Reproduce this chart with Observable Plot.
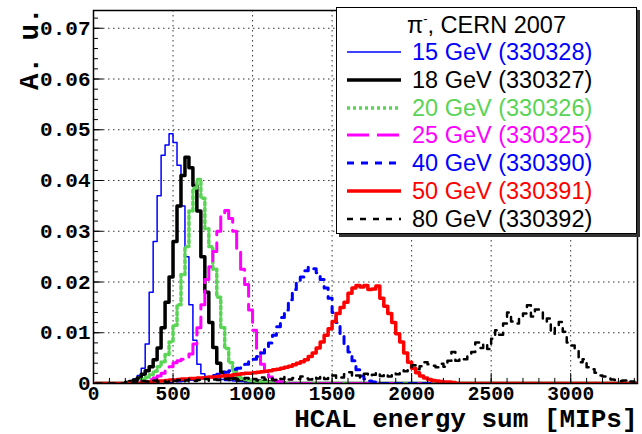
<!DOCTYPE html>
<html>
<head>
<meta charset="utf-8">
<script src="https://cdn.jsdelivr.net/npm/d3@7"></script>
<script src="https://cdn.jsdelivr.net/npm/@observablehq/plot@0.6"></script>
<style>
  body { margin: 0; background: #fff; }
  #wrap { position: relative; width: 642px; height: 434px; overflow: hidden; }
  #legend { position: absolute; left: 336px; top: 7px; width: 299px; height: 225px; background: #fff;
            border: 1px solid #000; box-shadow: 3px 3px 0 #333; font-family: "Liberation Sans", Arial, sans-serif; font-size: 23.5px; }
  .row { position: absolute; left: 0; height: 24px; line-height: 24px; display: flex; align-items: center; white-space: nowrap; }
  .row span { line-height: 24px; }
  .row svg { margin-left: 10px; margin-right: 11px; }
  .title { position: absolute; left: 0; width: 100%; text-align: center; top: 5px; height: 24px; line-height: 24px; white-space: nowrap; }
  .title sup { font-size: 13px; vertical-align: 10px; line-height: 0; }
</style>
</head>
<body>
<div id="wrap"></div>
<script>
// ---------- data (bin width 25 MIPs, values start at the given bin edge) ----------
const binWidth = 25;
const xMax = 3420;
const yMax = 0.0735;

const legendTitle = "CERN 2007";
const labels = ["15 GeV (330328)", "18 GeV (330327)", "20 GeV (330326)", "25 GeV (330325)",
                "40 GeV (330390)", "50 GeV (330391)", "80 GeV (330392)"];
const starts = [200, 200, 300, 300, 500, 300, 200];

const e15 = [0.0002,0.0005,0.0009,0.0016,0.003,0.0078,0.018,0.028,0.037,0.045,0.047,0.0492,0.0475,0.043,0.035,0.025,
  0.0155,0.0085,0.0038,0.0019,0.0014,0.0012,0.0011,0.0009,0.0008,0.0006,0.0006,0.0005,0.0004,0.0004,0.0003,0.0003,0.0002];
const e18 = [0.0002,0.0004,0.0007,0.0011,0.0018,0.0025,0.0033,0.0047,0.007,0.011,0.016,0.021,0.028,0.035,0.041,0.0446,
  0.0425,0.039,0.034,0.025,0.018,0.012,0.0071,0.004,0.0022,0.0015,0.0012,0.001,0.0009,0.0008,0.0007,0.0006,0.0005,
  0.0005,0.0004,0.0004,0.0003,0.0003,0.0002,0.0002];
const e20 = [0.0008,0.0012,0.0017,0.0024,0.0033,0.0043,0.0057,0.0082,0.0115,0.0155,0.0215,0.027,0.034,0.0385,0.0402,
  0.0365,0.0305,0.027,0.0225,0.017,0.011,0.0069,0.0041,0.0024,0.0015,0.001,0.0008,0.0006,0.0005,0.0004,0.0003,0.0003,0.0002];
const e25 = [0.0004,0.0006,0.0008,0.0011,0.0015,0.002,0.0026,0.0033,0.0041,0.0045,0.0048,0.005,0.0058,0.0078,0.011,
  0.0155,0.0205,0.023,0.026,0.030,0.0332,0.0341,0.0325,0.030,0.026,0.0225,0.0195,0.0145,0.0105,0.0062,0.0038,0.0022,
  0.0013,0.0007,0.0004,0.0003,0.0002];
const e40 = [0.0004,0.0005,0.0006,0.0007,0.0008,0.0009,0.001,0.0011,0.0012,0.0014,0.0016,0.0018,0.002,0.0022,0.0025,
  0.0028,0.003,0.0033,0.0038,0.0043,0.0048,0.0053,0.006,0.0068,0.008,0.0095,0.0112,0.013,0.0145,0.0165,0.0185,0.020,
  0.021,0.0222,0.0229,0.0226,0.0218,0.0205,0.0188,0.0168,0.014,0.012,0.0098,0.0078,0.0062,0.0045,0.0027,0.0015,0.0009,
  0.0005,0.0003,0.0002];
const e50 = [0.0002,0.0003,0.0003,0.0004,0.0005,0.0005,0.0006,0.0007,0.0007,0.0008,0.0009,0.0009,0.001,0.001,0.0011,
  0.0011,0.0012,0.0013,0.0013,0.0014,0.0015,0.0016,0.0016,0.0017,0.0018,0.0019,0.002,0.002,0.0021,0.0022,0.0023,0.0024,
  0.0025,0.0027,0.0028,0.003,0.0032,0.0034,0.0037,0.004,0.0043,0.0047,0.0053,0.006,0.007,0.0082,0.0095,0.0108,0.0122,
  0.0138,0.015,0.016,0.0178,0.0188,0.0193,0.019,0.0193,0.0185,0.0186,0.0192,0.0168,0.0152,0.0138,0.012,0.0098,0.0082,
  0.006,0.0042,0.003,0.0021,0.0015,0.0011,0.0008,0.0006,0.0005,0.0004,0.0003,0.0003,0.0002];
const e80 = [0.0003,0.0002,0.0004,0.0003,0.0005,0.0004,0.0003,0.0006,0.0004,0.0005,0.0003,0.0006,0.0005,0.0007,0.0004,
  0.0006,0.0008,0.0005,0.0007,0.0006,0.0009,0.0005,0.0008,0.0007,0.0006,0.0009,0.0007,0.001,0.0006,0.0008,0.0011,0.0007,
  0.0009,0.0006,0.0012,0.0008,0.001,0.0007,0.0011,0.0009,0.0013,0.0008,0.0011,0.0009,0.0014,0.001,0.0008,0.0013,0.001,
  0.0015,0.0009,0.0012,0.0016,0.001,0.0012,0.0018,0.0022,0.0013,0.0016,0.0011,0.0019,0.0014,0.0017,0.0022,0.0015,0.0019,
  0.0014,0.0021,0.0018,0.0026,0.0024,0.003,0.0036,0.0028,0.0034,0.0042,0.0038,0.0035,0.0032,0.0039,0.0033,0.0045,0.0062,
  0.0045,0.005,0.0048,0.0056,0.0062,0.0081,0.007,0.0079,0.0068,0.0088,0.0105,0.0096,0.0118,0.014,0.0122,0.0118,0.0128,
  0.0138,0.0154,0.0132,0.0146,0.014,0.0122,0.0128,0.0098,0.0115,0.0121,0.0102,0.0081,0.0075,0.0064,0.0042,0.0048,0.0032,
  0.0028,0.0021,0.0016,0.0014,0.001,0.0008,0.0007,0.0005,0.0006,0.0008,0.0004];
const values = [e15, e18, e20, e25, e40, e50, e80];

const xTicks = [0, 500, 1000, 1500, 2000, 2500, 3000];
const yTicks = [0, 0.01, 0.02, 0.03, 0.04, 0.05, 0.06, 0.07];
const xMinor = d3.range(0, 3401, 100);
const yMinor = d3.range(0, 0.0731, 0.002);
const xLabel = "HCAL energy sum [MIPs]";
const yLabel = "A. u.";

// ---------- styles ----------
const styles = [
  {stroke: "#0000ff", width: 1.5, dash: null},
  {stroke: "#000000", width: 3.5, dash: null},
  {stroke: "#59d454", width: 3.5, dash: "3,3"},
  {stroke: "#ff00ff", width: 3,   dash: "22,8"},
  {stroke: "#0000ff", width: 3,   dash: "7,7"},
  {stroke: "#ff0000", width: 3.5, dash: null},
  {stroke: "#000000", width: 2.5, dash: "6,7"}
];

// ---------- build histogram table ----------
const nBins = Math.ceil(xMax / binWidth);
const tables = values.map((vals, s) => {
  const rows = [];
  for (let i = 0; i < nBins; i++) {
    const edge = i * binWidth;
    const k = Math.round((edge - starts[s]) / binWidth);
    const v = (k >= 0 && k < vals.length) ? vals[k] : 0;
    rows.push({x: edge + binWidth / 2, y: v});
  }
  return rows;
});

const histMarks = tables.map((rows, s) => Plot.line(rows, {
  x: "x", y: "y", curve: "step", stroke: styles[s].stroke, strokeWidth: styles[s].width,
  strokeDasharray: styles[s].dash, clip: true
}));

const plot = Plot.plot({
  width: 642, height: 434,
  marginLeft: 93, marginRight: 5, marginTop: 10, marginBottom: 51,
  x: {domain: [0, xMax]},
  y: {domain: [0, yMax]},
  style: {fontFamily: "'Liberation Mono', 'DejaVu Sans Mono', monospace", fontWeight: "bold", fontSize: "21px", color: "#000", background: "#fff"},
  marks: [
    Plot.ruleX(xTicks.slice(1), {stroke: "#000", strokeWidth: 1, strokeDasharray: "1.5,3.5", strokeOpacity: 0.8}),
    Plot.ruleY(yTicks.slice(1), {stroke: "#000", strokeWidth: 1, strokeDasharray: "1.5,3.5", strokeOpacity: 0.8}),
    ...histMarks,
    Plot.ruleY(yMinor, {x1: 0, x2: 31, stroke: "#000", strokeWidth: 1}),
    Plot.ruleY(yTicks, {x1: 0, x2: 63, stroke: "#000", strokeWidth: 1}),
    Plot.ruleX(xMinor, {y1: 0, y2: 0.001, stroke: "#000", strokeWidth: 1}),
    Plot.ruleX(xTicks, {y1: 0, y2: 0.00197, stroke: "#000", strokeWidth: 1}),
    Plot.frame({stroke: "#000", strokeWidth: 1.5}),
    Plot.axisX(xTicks, {tickSize: 0, tickPadding: 3, label: null, fontSize: 19.5, fontWeight: "bold", tickFormat: d => String(d)}),
    Plot.axisY(yTicks, {tickSize: 0, tickPadding: 3, label: null, fontSize: 21, fontWeight: "bold",
      tickFormat: d => d === 0 ? "0" : d.toFixed(2)}),
    Plot.text([xLabel], {text: d => d, frameAnchor: "bottom-right", dy: 43.5, textAnchor: "end", fontSize: 26, fontWeight: "bold"}),
    Plot.text([yLabel], {text: d => d, frameAnchor: "top-left", dx: -75, dy: -3, rotate: -90, textAnchor: "end", fontSize: 27.5, fontWeight: "bold"})
  ]
});

const wrap = document.getElementById("wrap");
wrap.appendChild(plot);

// ---------- legend ----------
const legend = document.createElement("div");
legend.id = "legend";
const title = document.createElement("div");
title.className = "title";
title.innerHTML = "π<sup>-</sup>, " + legendTitle;
legend.appendChild(title);
labels.forEach((lab, s) => {
  const row = document.createElement("div");
  row.className = "row";
  row.style.top = (32 + s * 27.8) + "px";
  const st = styles[s];
  row.innerHTML = `<svg width="54" height="10"><line x1="0" y1="5" x2="54" y2="5" stroke="${st.stroke}" stroke-width="${st.width}" ${st.dash ? `stroke-dasharray="${st.dash}"` : ""}/></svg><span style="color:${st.stroke}">${lab}</span>`;
  legend.appendChild(row);
});
wrap.appendChild(legend);
</script>
</body>
</html>
